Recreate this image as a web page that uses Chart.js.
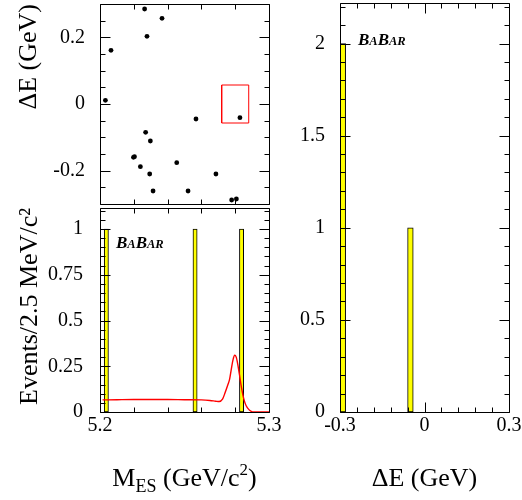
<!DOCTYPE html>
<html><head><meta charset="utf-8">
<script src="https://cdn.jsdelivr.net/npm/chart.js@4"></script>
<style>
html,body{margin:0;padding:0;background:#fff;overflow:hidden;width:522px;height:500px;}
canvas{position:absolute;}
.t{position:absolute;font-family:'Liberation Serif','Times New Roman',serif;color:#000;white-space:nowrap;}
.ttl{font-size:26px;line-height:26px;}
.ttl sub{font-size:18px;vertical-align:-6px;line-height:0;}
.ttl sup{font-size:17px;vertical-align:11px;line-height:0;}
.logo{font-size:17px;line-height:17px;font-weight:bold;font-style:italic;}
.logo .s{font-size:12.5px;}
</style></head><body>
<canvas id="cC" width="282" height="500" style="left:240px;top:0"></canvas>
<canvas id="cB" width="289" height="300" style="left:0;top:200px"></canvas>
<canvas id="cA" width="289" height="208" style="left:0;top:0"></canvas>
<div class="t ttl" id="mesTitle" style="left:184.5px;top:465px;transform:translateX(-50%)">M<sub>ES</sub> (GeV/c<sup>2</sup>)</div>
<div class="t logo" style="left:116px;top:234px">B<span class="s">A</span>B<span class="s">AR</span></div>
<div class="t logo" style="left:358px;top:31px">B<span class="s">A</span>B<span class="s">AR</span></div>
<script>
// ---- data ----
const scatterMes = [5.2032, 5.2065, 5.2264, 5.2278, 5.2367, 5.2270, 5.2298, 5.2198, 5.2204, 5.2239, 5.2294, 5.2314, 5.2454, 5.2521, 5.2568, 5.2686, 5.2779, 5.2807, 5.2828];
const scatterDe  = [0.011, 0.161, 0.285, 0.203, 0.257, -0.085, -0.111, -0.160, -0.158, -0.188, -0.210, -0.261, -0.176, -0.261, -0.045, -0.210, -0.288, -0.285, -0.041];
const signalMes = [5.272, 5.288];
const signalDe = [-0.057, 0.057];

const mesBinCenters = [5.20375, 5.25625, 5.28375];
const mesBinCounts = [1, 1, 1];
const mesBinWidth = 0.0025;

const fitMes = [5.2015, 5.21, 5.22, 5.23, 5.24, 5.25, 5.26, 5.265, 5.2685, 5.2705, 5.2725, 5.274, 5.2757, 5.2767, 5.2777, 5.2787, 5.2797, 5.2806, 5.2815, 5.2825, 5.2835, 5.2845, 5.2855, 5.2865, 5.2875, 5.2885, 5.2895, 5.2905, 5.3];
const fitVal = [0.066, 0.067, 0.068, 0.068, 0.068, 0.067, 0.066, 0.063, 0.059, 0.057, 0.07, 0.105, 0.15, 0.18, 0.235, 0.285, 0.31, 0.3, 0.262, 0.205, 0.145, 0.095, 0.058, 0.034, 0.02, 0.01, 0.004, 0, 0];

const deBinCenters = [-0.29, -0.05];
const deBinCounts = [2, 1];
const deBinWidth = 0.02;

const mesTickLabels = [5.2, 5.3];
const deTickLabels = [-0.3, 0, 0.3];
const scatterYTickLabels = [-0.2, 0, 0.2];
const mesHistYTickLabels = [0, 0.25, 0.5, 0.75, 1];
const deHistYTickLabels = [0, 0.5, 1, 1.5, 2];

// ---- helpers ----
const FONT = "'Liberation Serif','Times New Roman',serif";
const tickFont = {family: FONT, size: 20};
const titleFont = {family: FONT, size: 26};
function zeroPad(s){ s.paddingTop = 0; s.paddingBottom = 0; s.paddingLeft = 0; s.paddingRight = 0; }
function setTicks(arr){ return s => { s.ticks = arr.map(v => ({value: v})); }; }

const frameTicks = {
  id: 'frameTicks',
  afterDatasetsDraw(chart, args, o) {
    const {ctx, chartArea: a, scales: {x, y}} = chart;
    const L = Math.round(a.left) + 0.5, R = Math.round(a.right) + 0.5;
    const T = Math.round(a.top) + 0.5, B = Math.round(a.bottom) + 0.5;
    ctx.save();
    ctx.strokeStyle = '#000'; ctx.lineWidth = 1;
    ctx.beginPath();
    const minor = (min, max, step) => { const out = []; const i0 = Math.ceil(min / step - 1e-6), i1 = Math.floor(max / step + 1e-6); for (let i = i0; i <= i1; i++) out.push(i * step); return out; };
    const isMajor = (v, majors) => majors.some(m => Math.abs(m - v) < 1e-6);
    const xs = minor(x.min, x.max, o.xStep);
    o.xMajor.forEach(v => { if (!isMajor(v, xs)) xs.push(v); });
    xs.forEach(v => {
      const len = isMajor(v, o.xMajor) ? 10 : 5;
      const px = Math.round(x.getPixelForValue(v)) + 0.5;
      ctx.moveTo(px, B); ctx.lineTo(px, B - len);
      ctx.moveTo(px, T); ctx.lineTo(px, T + len);
    });
    const ys = minor(y.min, y.max, o.yStep);
    ys.forEach(v => {
      const len = isMajor(v, o.yMajor) ? 10 : 5;
      const py = Math.round(y.getPixelForValue(v)) + 0.5;
      ctx.moveTo(L, py); ctx.lineTo(L + len, py);
      ctx.moveTo(R, py); ctx.lineTo(R - len, py);
    });
    ctx.rect(L, T, R - L, B - T);
    ctx.stroke();
    ctx.restore();
  }
};

function yTicks(pad){ return {font: tickFont, color: '#000', padding: pad, autoSkip: false, maxRotation: 0, callback: v => String(v)}; }
function xTicks(){ return {font: tickFont, color: '#000', padding: 2, autoSkip: false, maxRotation: 0, minRotation: 0, callback: v => String(v)}; }
const noGrid = {display: false, drawTicks: false, tickLength: 0};
const noBorder = {display: false};
const common = {responsive: false, animation: false, events: []};

function fitBins(chart) {
  const s = chart.scales.x;
  chart.data.datasets.forEach(ds => {
    if (ds.binWidth) ds.barThickness = Math.abs(s.getPixelForValue(s.min + ds.binWidth) - s.getPixelForValue(s.min));
  });
  chart.update('none');
}

// ---- A: scatter ----
const scatterPoints = scatterMes.map((m, i) => ({x: m, y: scatterDe[i]}));
const boxPoints = [
  {x: signalMes[0], y: signalDe[0]}, {x: signalMes[1], y: signalDe[0]},
  {x: signalMes[1], y: signalDe[1]}, {x: signalMes[0], y: signalDe[1]},
  {x: signalMes[0], y: signalDe[0]}
];
new Chart(document.getElementById('cA'), {
  type: 'scatter',
  data: {datasets: [
    {data: boxPoints, showLine: true, borderColor: '#ff0000', borderWidth: 1, pointRadius: 0, fill: false, tension: 0},
    {data: scatterPoints, showLine: false, pointRadius: 2.4, pointBackgroundColor: '#000', pointBorderWidth: 0, pointBorderColor: '#000'}
  ]},
  options: Object.assign({}, common, {
    layout: {padding: {top: 3, right: 20, bottom: 0, left: 0}},
    plugins: {legend: {display: false}, tooltip: {enabled: false},
      frameTicks: {xMajor: mesTickLabels, xStep: 0.02, yMajor: scatterYTickLabels, yStep: 0.05}},
    scales: {
      x: {type: 'linear', min: 5.2, max: 5.3, grid: noGrid, border: noBorder, ticks: {display: false},
          afterFit: s => { s.height = 0; zeroPad(s); }},
      y: {type: 'linear', min: -0.3, max: 0.3, grid: noGrid, border: noBorder, ticks: yTicks(15),
          afterBuildTicks: setTicks(scatterYTickLabels),
          title: {display: true, text: 'ΔE (GeV)', align: 'end', font: titleFont, color: '#000', padding: {top: 14, bottom: 0}},
          afterFit: s => { s.width = 100; zeroPad(s); }}
    }
  }),
  plugins: [frameTicks]
});

// ---- B: mES histogram + fit ----
const mesHist = mesBinCenters.map((c, i) => ({x: c, y: mesBinCounts[i]}));
const fitCurve = fitMes.map((m, i) => ({x: m, y: fitVal[i]}));
const chartB = new Chart(document.getElementById('cB'), {
  type: 'bar',
  data: {datasets: [
    {type: 'line', data: fitCurve, borderColor: '#ff0000', borderWidth: 1.4, pointRadius: 0, fill: false, cubicInterpolationMode: 'monotone', order: 0},
    {type: 'bar', data: mesHist, binWidth: mesBinWidth, backgroundColor: '#ffff00', borderColor: '#000', borderWidth: 1, borderSkipped: false, order: 1}
  ]},
  options: Object.assign({}, common, {
    layout: {padding: {top: 8, right: 20, bottom: 0, left: 0}},
    plugins: {legend: {display: false}, tooltip: {enabled: false},
      frameTicks: {xMajor: mesTickLabels, xStep: 0.02, yMajor: mesHistYTickLabels, yStep: 0.05}},
    scales: {
      x: {type: 'linear', min: 5.2, max: 5.3, offset: false, grid: noGrid, border: noBorder, ticks: xTicks(),
          afterBuildTicks: setTicks(mesTickLabels),
          afterFit: s => { s.height = 88; zeroPad(s); }},
      y: {type: 'linear', min: 0, max: 1.115, grid: noGrid, border: noBorder, ticks: yTicks(17),
          afterBuildTicks: setTicks(mesHistYTickLabels),
          title: {display: true, text: 'Events/2.5 MeV/c²', align: 'end', font: titleFont, color: '#000', padding: {top: 15, bottom: 0}},
          afterFit: s => { s.width = 100; zeroPad(s); }}
    }
  }),
  plugins: [frameTicks]
});
fitBins(chartB);

// ---- C: ΔE histogram ----
const deHist = deBinCenters.map((c, i) => ({x: c, y: deBinCounts[i]}));
const chartC = new Chart(document.getElementById('cC'), {
  type: 'bar',
  data: {datasets: [
    {data: deHist, binWidth: deBinWidth, backgroundColor: '#ffff00', borderColor: '#000', borderWidth: 1, borderSkipped: false}
  ]},
  options: Object.assign({}, common, {
    layout: {padding: {top: 3, right: 13, bottom: 0, left: 0}},
    plugins: {legend: {display: false}, tooltip: {enabled: false},
      frameTicks: {xMajor: deTickLabels, xStep: 0.06, yMajor: deHistYTickLabels, yStep: 0.1}},
    scales: {
      x: {type: 'linear', min: -0.3, max: 0.3, offset: false, grid: noGrid, border: noBorder, ticks: xTicks(),
          afterBuildTicks: setTicks(deTickLabels),
          title: {display: true, text: 'ΔE (GeV)', font: titleFont, color: '#000', padding: {top: 0, bottom: 5}},
          afterFit: s => { s.height = 88; zeroPad(s); }},
      y: {type: 'linear', min: 0, max: 2.22, grid: noGrid, border: noBorder, ticks: yTicks(15),
          afterBuildTicks: setTicks(deHistYTickLabels),
          afterFit: s => { s.width = 100; zeroPad(s); }}
    }
  }),
  plugins: [frameTicks]
});
fitBins(chartC);
</script>
</body></html>
